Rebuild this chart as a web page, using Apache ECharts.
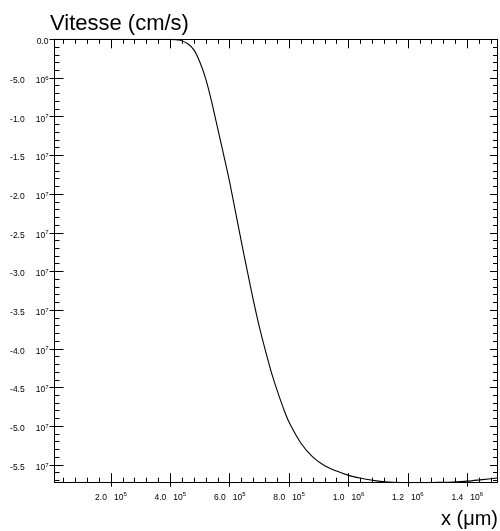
<!DOCTYPE html>
<html><head><meta charset="utf-8">
<script src="https://cdn.jsdelivr.net/npm/echarts@6/dist/echarts.min.js"></script>
<style>html,body{margin:0;padding:0;background:#fff}#c{width:500px;height:531px}</style>
</head><body><div id="c"></div>
<script>
// Data (x in µm, velocity in cm/s)
const xValues = [1e4, 1e5, 2e5, 3e5, 4e5, 4.3e5, 4.6e5, 4.8e5, 5.0e5, 5.2e5, 5.4e5, 5.6e5, 5.8e5, 6.0e5, 6.2e5, 6.4e5, 6.6e5, 6.8e5, 7.0e5, 7.2e5, 7.4e5, 7.6e5, 7.8e5, 8.0e5, 8.4e5, 8.8e5, 9.2e5, 9.6e5, 1.0e6, 1.05e6, 1.1e6, 1.15e6, 1.2e6, 1.25e6, 1.3e6, 1.35e6, 1.4e6, 1.45e6, 1.5e6];
const vValues = [0, 0, 0, 0, -0.001e7, -0.01e7, -0.06e7, -0.14e7, -0.30e7, -0.52e7, -0.82e7, -1.16e7, -1.50e7, -1.85e7, -2.24e7, -2.63e7, -3.01e7, -3.38e7, -3.72e7, -4.02e7, -4.30e7, -4.54e7, -4.76e7, -4.95e7, -5.22e7, -5.40e7, -5.51e7, -5.58e7, -5.635e7, -5.68e7, -5.71e7, -5.725e7, -5.73e7, -5.73e7, -5.725e7, -5.72e7, -5.71e7, -5.69e7, -5.67e7];
const xMajorTicks = [2e5, 4e5, 6e5, 8e5, 1.0e6, 1.2e6, 1.4e6];
const yMajorTicks = [0, -5e6, -1.0e7, -1.5e7, -2.0e7, -2.5e7, -3.0e7, -3.5e7, -4.0e7, -4.5e7, -5.0e7, -5.5e7];
const xMin = 1e4, xMax = 1.5e6, yMin = -5.73e7, yMax = 0;
const xMinorStep = 4e4, yMinorStep = 1e6;

const xMinorTicks = [];
for (let k = 1; k * xMinorStep < xMax; k++) xMinorTicks.push(k * xMinorStep);
const yMinorTicks = [];
for (let k = 1; -k * yMinorStep > yMin; k++) yMinorTicks.push(-k * yMinorStep);

function fmt(v) {
  if (v === 0) return '{m|0.0}';
  const e = Math.floor(Math.log10(Math.abs(v)) + 1e-9);
  const m = v / Math.pow(10, e);
  return '{m|' + m.toFixed(1) + '}{g| }{m|10}{s|' + e + '}';
}
function richFor(gap) {
  return {
    m: {fontSize: 8.5, fontFamily: 'Liberation Sans', color: '#000', lineHeight: 10, verticalAlign: 'bottom'},
    g: {fontSize: 8.5, width: gap, lineHeight: 10},
    s: {fontSize: 6, fontFamily: 'Liberation Sans', color: '#000', lineHeight: 6, verticalAlign: 'top'}
  };
}
const line = {show: true, onZero: false, lineStyle: {color: '#000', width: 1}};
const noLine = {show: false, onZero: false};
const tickStyle = {color: '#000', width: 1};
const gridBox = {left: 54.5, right: 3, top: 39.3, bottom: 48.3, outerBoundsMode: 'none', containLabel: false};

function xAx(gi, pos, opts) {
  return Object.assign({type: 'value', gridIndex: gi, position: pos, min: xMin, max: xMax, splitLine: {show: false},
    axisLine: noLine, axisLabel: {show: false}, axisTick: {show: false}}, opts);
}
function yAx(gi, pos, opts) {
  return Object.assign({type: 'value', gridIndex: gi, position: pos, min: yMin, max: yMax, splitLine: {show: false},
    axisLine: noLine, axisLabel: {show: false}, axisTick: {show: false}}, opts);
}

const option = {
  animation: false,
  backgroundColor: '#fff',
  grid: [0, 1, 2, 3, 4].map(() => Object.assign({}, gridBox)),
  title: {text: 'Vitesse (cm/s)', left: 50, top: 13, padding: 0,
    textStyle: {fontFamily: 'Liberation Sans', fontSize: 22, fontWeight: 'normal', color: '#000'}},
  graphic: [{type: 'text', right: 2, top: 509,
    style: {text: 'x (\u03bcm)', font: '20px "Liberation Sans"', fill: '#000'}}],
  xAxis: [
    xAx(0, 'bottom', {axisLine: line,
      axisLabel: {show: true, customValues: xMajorTicks, formatter: fmt, rich: richFor(7), margin: 9},
      axisTick: {show: true, customValues: xMajorTicks, inside: false, length: 4, lineStyle: tickStyle}}),
    xAx(1, 'bottom', {axisTick: {show: true, customValues: xMajorTicks, inside: true, length: 9.5, lineStyle: tickStyle}}),
    xAx(2, 'bottom', {axisTick: {show: true, customValues: xMinorTicks, inside: true, length: 5, lineStyle: tickStyle}}),
    xAx(3, 'top', {axisLine: line, axisTick: {show: true, customValues: xMajorTicks, inside: true, length: 9, lineStyle: tickStyle}}),
    xAx(4, 'top', {axisTick: {show: true, customValues: xMinorTicks, inside: true, length: 4.5, lineStyle: tickStyle}})
  ],
  yAxis: [
    yAx(0, 'left', {axisLine: line,
      axisLabel: {show: true, customValues: yMajorTicks, formatter: fmt, rich: richFor(11), margin: 6, padding: [4, 0, 0, 0]},
      axisTick: {show: true, customValues: yMajorTicks, inside: false, length: 5, lineStyle: tickStyle}}),
    yAx(1, 'left', {axisTick: {show: true, customValues: yMajorTicks, inside: true, length: 9, lineStyle: tickStyle}}),
    yAx(2, 'left', {axisTick: {show: true, customValues: yMinorTicks, inside: true, length: 5, lineStyle: tickStyle}}),
    yAx(3, 'right', {axisLine: line, axisTick: {show: true, customValues: yMajorTicks, inside: true, length: 7, lineStyle: tickStyle}}),
    yAx(4, 'right', {axisTick: {show: true, customValues: yMinorTicks, inside: true, length: 4, lineStyle: tickStyle}})
  ],
  series: [{
    type: 'line', xAxisIndex: 0, yAxisIndex: 0, showSymbol: false, smooth: 0.3, clip: true,
    lineStyle: {color: '#000', width: 1.1},
    data: xValues.map((x, i) => [x, vValues[i]])
  }]
};
echarts.init(document.getElementById('c'), null, {renderer: 'canvas'}).setOption(option);
</script></body></html>
